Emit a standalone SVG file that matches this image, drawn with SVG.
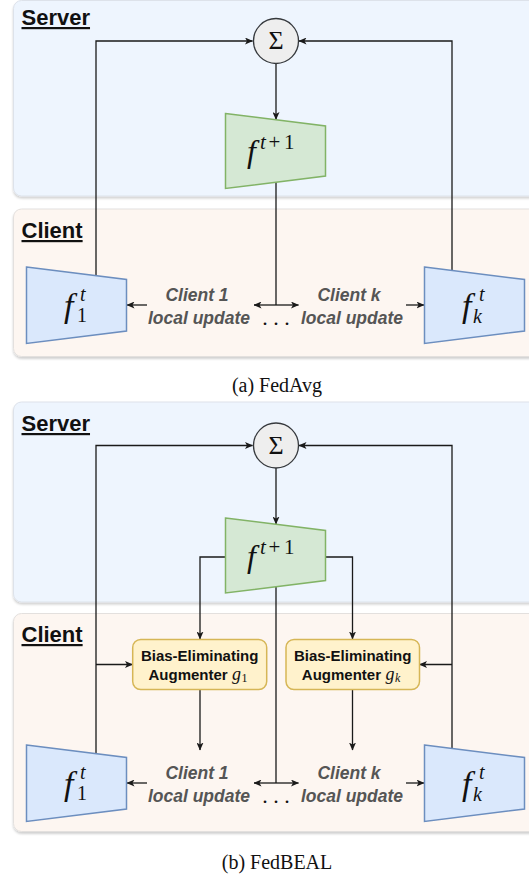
<svg xmlns="http://www.w3.org/2000/svg" width="529" height="875" viewBox="0 0 529 875">
<defs>
<filter id="sh" x="-5%" y="-5%" width="110%" height="115%">
<feDropShadow dx="0" dy="2" stdDeviation="1" flood-color="#000" flood-opacity="0.18"/>
</filter>
<marker id="arr" markerWidth="8" markerHeight="7" refX="7.5" refY="3.5" orient="auto" markerUnits="userSpaceOnUse">
<path d="M0,0 L8,3.5 L0,7 L2,3.5 z" fill="#1a1a1a"/>
</marker>
</defs>
<style>
.srv{fill:#eef5fe;stroke:#dde2ea;stroke-width:1}
.cli{fill:#fdf6f1;stroke:#e3e0de;stroke-width:1}
.lbl{font-family:"Liberation Sans",Arial,sans-serif;font-weight:bold;font-size:22px;fill:#111;text-decoration:underline}
.green{fill:#d5e8d4;stroke:#82b366;stroke-width:1.5}
.blue{fill:#dae8fc;stroke:#6c8ebf;stroke-width:1.5}
.aug{fill:#fff2cc;stroke:#d6b656;stroke-width:1.5}
.sum{fill:#eeeeee;stroke:#36393d;stroke-width:1.3}
.math{font-family:"Liberation Serif","Times New Roman",serif;font-style:italic;fill:#111}
.up{font-style:normal}
.con path{fill:none;stroke:#1a1a1a;stroke-width:1.3}
.upd{font-family:"Liberation Sans",Arial,sans-serif;font-weight:bold;font-style:italic;font-size:17.5px;fill:#555;text-anchor:middle}
.augt{font-family:"Liberation Sans",Arial,sans-serif;font-weight:bold;font-size:15px;fill:#111}
.cap{font-family:"Liberation Serif","Times New Roman",serif;font-size:20px;fill:#111;text-anchor:middle}
.dots{font-family:"Liberation Serif",serif;font-size:22px;fill:#111;text-anchor:middle}
</style>

<!-- Panel (a) containers -->
<g id="a-server">
<rect class="srv" x="13.5" y="0.5" width="530" height="195.5" rx="8" filter="url(#sh)"/>
<text class="lbl" x="21.5" y="25">Server</text>
</g>
<g id="a-client">
<rect class="cli" x="13.5" y="209" width="530" height="147.5" rx="8" filter="url(#sh)"/>
<text class="lbl" x="21.5" y="238">Client</text>
</g>

<!-- Panel (b) containers -->
<g id="b-server">
<rect class="srv" x="13.5" y="402" width="530" height="200" rx="8" filter="url(#sh)"/>
<text class="lbl" x="21.5" y="431">Server</text>
</g>
<g id="b-client">
<rect class="cli" x="13.5" y="613.5" width="530" height="218" rx="8" filter="url(#sh)"/>
<text class="lbl" x="21.5" y="642">Client</text>
</g>

<!-- connectors -->
<g id="connectors" class="con">
<!-- (a) -->
<path d="M96,275 V41 H252.5" marker-end="url(#arr)"/>
<path d="M452,270 V41 H299" marker-end="url(#arr)"/>
<path d="M276,63.5 V119.5" marker-end="url(#arr)"/>
<path d="M276,182 V305"/>
<path d="M276,305 H254" marker-end="url(#arr)"/>
<path d="M276,305 H298.5" marker-end="url(#arr)"/>
<path d="M147,305 H127" marker-end="url(#arr)"/>
<path d="M406,305 H424" marker-end="url(#arr)"/>
<!-- (b) -->
<path d="M96,753 V445.5 H252.5" marker-end="url(#arr)"/>
<path d="M452,748 V445.5 H299" marker-end="url(#arr)"/>
<path d="M276,468 V524" marker-end="url(#arr)"/>
<path d="M226,557 H200 V639" marker-end="url(#arr)"/>
<path d="M326,557 H352.5 V639" marker-end="url(#arr)"/>
<path d="M96,664.5 H132.5" marker-end="url(#arr)"/>
<path d="M452,664.5 H419.5" marker-end="url(#arr)"/>
<path d="M200,690 V750" marker-end="url(#arr)"/>
<path d="M352.5,690 V750" marker-end="url(#arr)"/>
<path d="M276,586.5 V783"/>
<path d="M276,783 H254" marker-end="url(#arr)"/>
<path d="M276,783 H298.5" marker-end="url(#arr)"/>
<path d="M147,783 H127" marker-end="url(#arr)"/>
<path d="M406,783 H424" marker-end="url(#arr)"/>
</g>

<!-- Panel (a) nodes -->
<g id="a-sum">
<circle class="sum" cx="276" cy="41" r="22.5"/>
<text class="math up" x="276" y="49" font-size="26" text-anchor="middle">Σ</text>
</g>
<g id="a-global">
<polygon class="green" points="225.5,113.5 325.5,126 325.5,176 225.5,188.5"/>
<text class="math" font-size="32"><tspan x="247" y="162">f</tspan><tspan x="260" y="149" font-size="21">t</tspan><tspan class="up" x="268.5" y="149" font-size="21">+</tspan><tspan class="up" x="284" y="149" font-size="21">1</tspan></text>
</g>
<g id="a-f1">
<polygon class="blue" points="26.5,267 126.5,279.5 126.5,331 26.5,343.5"/>
<text class="math" font-size="34"><tspan x="64" y="317">f</tspan><tspan x="80" y="301" font-size="20">t</tspan><tspan class="up" x="77" y="322" font-size="20">1</tspan></text>
</g>
<g id="a-fk">
<polygon class="blue" points="424.5,267 524.5,279.5 524.5,331 424.5,343.5"/>
<text class="math" font-size="34"><tspan x="462" y="317">f</tspan><tspan x="479" y="301" font-size="20">t</tspan><tspan x="473" y="323" font-size="20">k</tspan></text>
</g>
<g id="a-upd1">
<text class="upd" x="197" y="301">Client 1</text>
<text class="upd" x="199" y="324">local update</text>
</g>
<g id="a-updk">
<text class="upd" x="349" y="301">Client k</text>
<text class="upd" x="352" y="324">local update</text>
</g>
<g id="a-dots"><text class="dots" x="276" y="325">. . .</text></g>
<g id="a-caption"><text class="cap" x="277" y="392">(a) FedAvg</text></g>

<!-- Panel (b) nodes -->
<g id="b-sum">
<circle class="sum" cx="276" cy="445.5" r="22.5"/>
<text class="math up" x="276" y="453.5" font-size="26" text-anchor="middle">Σ</text>
</g>
<g id="b-global">
<polygon class="green" points="225.5,518 325.5,530.5 325.5,580.5 225.5,593"/>
<text class="math" font-size="32"><tspan x="247" y="566.5">f</tspan><tspan x="260" y="553.5" font-size="21">t</tspan><tspan class="up" x="268.5" y="553.5" font-size="21">+</tspan><tspan class="up" x="284" y="553.5" font-size="21">1</tspan></text>
</g>
<g id="b-g1">
<rect class="aug" x="132.7" y="639.5" width="134" height="50" rx="8"/>
<text class="augt" x="199.7" y="660.5" text-anchor="middle">Bias-Eliminating</text>
<text class="augt" x="148.5" y="679.5">Augmenter</text>
<text class="math" x="232" y="679.5" font-size="18">g<tspan class="up" x="241.5" y="682" font-size="12">1</tspan></text>
</g>
<g id="b-gk">
<rect class="aug" x="286" y="639.5" width="133.5" height="50" rx="8"/>
<text class="augt" x="352.7" y="660.5" text-anchor="middle">Bias-Eliminating</text>
<text class="augt" x="301.8" y="679.5">Augmenter</text>
<text class="math" x="385.5" y="679.5" font-size="18">g<tspan x="395" y="682" font-size="12">k</tspan></text>
</g>
<g id="b-f1">
<polygon class="blue" points="26.5,745 126.5,757.5 126.5,809 26.5,821.5"/>
<text class="math" font-size="34"><tspan x="64" y="795">f</tspan><tspan x="80" y="779" font-size="20">t</tspan><tspan class="up" x="77" y="800" font-size="20">1</tspan></text>
</g>
<g id="b-fk">
<polygon class="blue" points="424.5,745 524.5,757.5 524.5,809 424.5,821.5"/>
<text class="math" font-size="34"><tspan x="462" y="795">f</tspan><tspan x="479" y="779" font-size="20">t</tspan><tspan x="473" y="801" font-size="20">k</tspan></text>
</g>
<g id="b-upd1">
<text class="upd" x="197" y="779">Client 1</text>
<text class="upd" x="199" y="802">local update</text>
</g>
<g id="b-updk">
<text class="upd" x="349" y="779">Client k</text>
<text class="upd" x="352" y="802">local update</text>
</g>
<g id="b-dots"><text class="dots" x="276" y="803">. . .</text></g>
<g id="b-caption"><text class="cap" x="277" y="869">(b) FedBEAL</text></g>
</svg>
